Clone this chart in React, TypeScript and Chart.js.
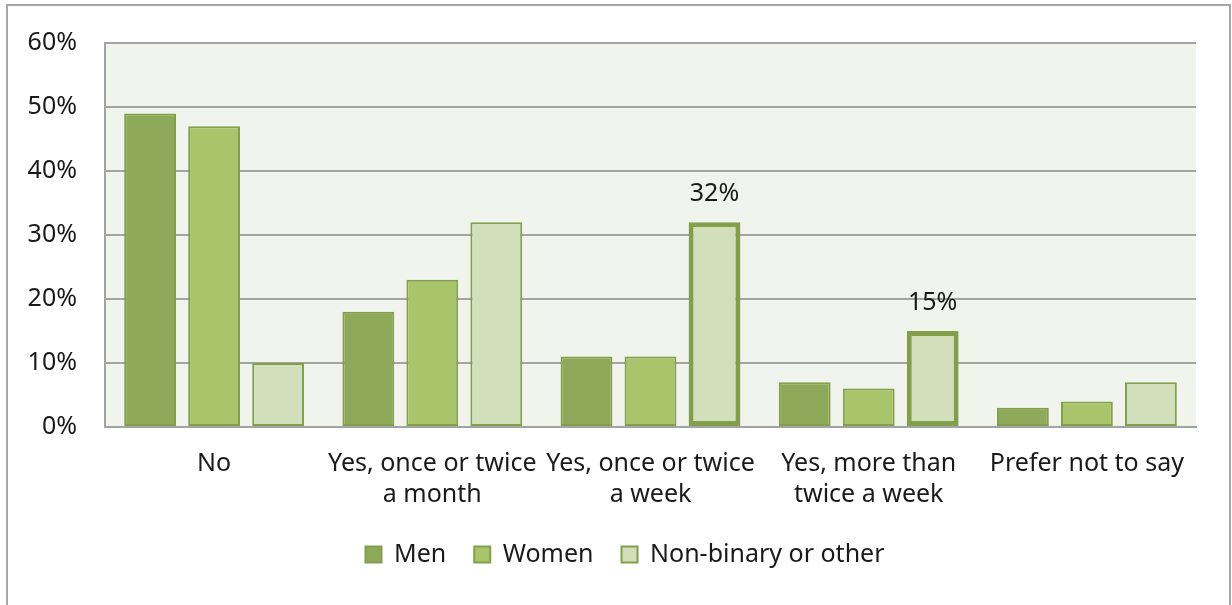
import React, { useEffect, useRef } from "react";
import { Chart, registerables } from "chart.js";

Chart.register(...registerables);

const categories: (string | string[])[] = [
  "No",
  ["Yes, once or twice", "a month"],
  ["Yes, once or twice", "a week"],
  ["Yes, more than", "twice a week"],
  "Prefer not to say",
];
const seriesNames = ["Men", "Women", "Non-binary or other"];
const men = [49, 18, 11, 7, 3];
const women = [47, 23, 11, 6, 4];
const nonBinary = [10, 32, 32, 15, 7];
const highlighted = [false, false, true, true, false];

const FONT = "'Noto Sans'";
const FS = 25;
const TEXT = "#1a1a1a";
const GRID = "#a3a3a3";
const BORDER = "#82a04c";

const bgPlugin = {
  id: "plotBg",
  beforeDraw(chart: any) {
    const { ctx, chartArea } = chart;
    ctx.save();
    ctx.fillStyle = "#f1f4ed";
    ctx.fillRect(chartArea.left, chartArea.top, chartArea.right - chartArea.left, chartArea.bottom - chartArea.top);
    ctx.restore();
  },
};

const legendShift = {
  id: "legendShift",
  afterLayout(chart: any) {
    const lg = chart.legend;
    if (lg) {
      lg.left += 27;
      lg.right += 27;
    }
  },
};

const labelPlugin = {
  id: "hlLabels",
  afterDatasetsDraw(chart: any) {
    const { ctx } = chart;
    const meta = chart.getDatasetMeta(2);
    ctx.save();
    ctx.font = `${FS}px ${FONT}`;
    ctx.fillStyle = TEXT;
    ctx.textAlign = "center";
    ctx.textBaseline = "middle";
    meta.data.forEach((el: any, i: number) => {
      if (highlighted[i]) ctx.fillText(`${nonBinary[i]}%`, el.x, el.y - 28);
    });
    ctx.restore();
  },
};

export default function App() {
  const ref = useRef<HTMLCanvasElement>(null);
  useEffect(() => {
    const chart = new Chart(ref.current!, {
      type: "bar",
      data: {
        labels: categories as any,
        datasets: [
          {
            label: seriesNames[0],
            data: men,
            backgroundColor: "#8fa95a",
            borderColor: BORDER,
            borderWidth: 2,
            borderSkipped: false,
          },
          {
            label: seriesNames[1],
            data: women,
            backgroundColor: "#aac46c",
            borderColor: BORDER,
            borderWidth: 2,
            borderSkipped: false,
          },
          {
            label: seriesNames[2],
            data: nonBinary,
            backgroundColor: "#d1dfba",
            borderColor: BORDER,
            borderWidth: highlighted.map((h) => (h ? 5 : 2)),
            borderSkipped: false,
          },
        ],
      },
      options: {
        responsive: false,
        animation: false,
        devicePixelRatio: 1,
        layout: { padding: { top: 40, right: 36, left: 0, bottom: 28 } },
        datasets: {
          bar: { categoryPercentage: 0.88, barPercentage: 0.81 },
        },
        scales: {
          x: {
            grid: { display: false, drawTicks: false },
            border: { display: true, color: GRID, width: 2 },
            ticks: {
              color: TEXT,
              font: { family: FONT, size: FS, lineHeight: 1.25 },
              maxRotation: 0,
              minRotation: 0,
              autoSkip: false,
              padding: 21,
            },
            afterFit(scale: any) {
              scale.height = 87;
            },
          },
          y: {
            min: 0,
            max: 60,
            grid: { color: GRID, lineWidth: 2, drawTicks: false },
            border: { display: true, color: GRID, width: 2 },
            ticks: {
              stepSize: 10,
              color: TEXT,
              font: { family: FONT, size: FS },
              padding: 28,
              callback: (v: any) => `${v}%`,
            },
            afterFit(scale: any) {
              scale.width = 105;
            },
          },
        },
        plugins: {
          legend: {
            position: "bottom",
            labels: {
              color: TEXT,
              font: { family: FONT, size: FS },
              boxWidth: 16,
              boxHeight: 16,
              padding: 28,
            },
          },
          tooltip: { enabled: false },
        },
      },
      plugins: [bgPlugin, labelPlugin, legendShift],
    });
    return () => chart.destroy();
  }, []);
  return (
    <div style={{ position: "fixed", left: 0, top: 0, width: 1232, height: 605, overflow: "hidden", background: "#fff" }}>
      <div
        style={{
          position: "absolute",
          left: 6,
          top: 4,
          width: 1225,
          height: 700,
          border: "2px solid #a6a6a6",
          boxSizing: "border-box",
        }}
      />
      <canvas ref={ref} width={1232} height={605} style={{ position: "absolute", left: 0, top: 0, width: 1232, height: 605 }} />
    </div>
  );
}
